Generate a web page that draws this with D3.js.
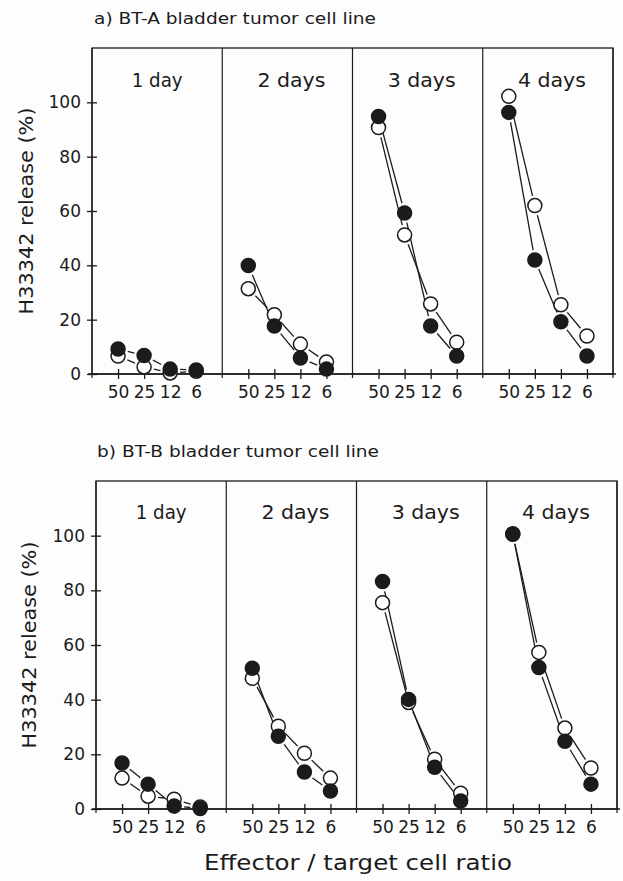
<!DOCTYPE html>
<html>
<head>
<meta charset="utf-8">
<script src="https://cdn.jsdelivr.net/npm/d3@7"></script>
<style>
  html, body { margin: 0; padding: 0; background: #fdfdfd; }
  svg { display: block; font-family: "DejaVu Sans", sans-serif; }
</style>
</head>
<body>
<svg id="chart" width="623" height="881"></svg>
<script>
// Effector / target cell ratios (x categories within each day panel)
const ratios = ["50", "25", "12", "6"];
// Incubation time panels
const days = ["1 day", "2 days", "3 days", "4 days"];
// Y axis ticks
const yTicks = [0, 20, 40, 60, 80, 100];

// a) BT-A: H33342 release (%) per day panel, at ratios 50, 25, 12, 6
const btaFilled = [
  [9.2, 6.8, 1.8, 1.5],
  [39.9, 17.7, 5.9, 1.8],
  [94.8, 59.3, 17.7, 6.6],
  [96.3, 42.0, 19.2, 6.6]
];
const btaOpen = [
  [6.6, 2.6, 0.4, 1.0],
  [31.4, 21.8, 11.0, 4.4],
  [90.7, 51.2, 25.8, 11.7],
  [102.2, 62.0, 25.5, 14.0]
];

// b) BT-B: H33342 release (%) per day panel, at ratios 50, 25, 12, 6
const btbFilled = [
  [16.8, 9.1, 1.1, 0.2],
  [51.5, 26.6, 13.5, 6.6],
  [83.2, 40.1, 15.3, 2.9],
  [100.7, 51.8, 24.8, 9.1]
];
const btbOpen = [
  [11.3, 4.7, 3.6, 0.7],
  [47.8, 30.3, 20.4, 11.3],
  [75.5, 39.0, 18.2, 5.8],
  [100.5, 57.3, 29.6, 15.0]
];

const svg = d3.select("#chart");
const ink = "#1b1b1b";
const R = 7;       // marker radius
const GAP = 10;    // connecting lines stop short of the markers

const blocks = [
  { title: "a) BT-A bladder tumor cell line", titleX: 94, titleY: 24,
    left: 92, right: 613, top: 48, base: 374, dayY: 87, ylabX: 33,
    filled: btaFilled, open: btaOpen },
  { title: "b) BT-B bladder tumor cell line", titleX: 97, titleY: 457,
    left: 96, right: 617, top: 481, base: 809, dayY: 519, ylabX: 36,
    filled: btbFilled, open: btbOpen }
];

blocks.forEach(b => {
  const g = svg.append("g");
  const y = d3.scaleLinear().domain([0, 120]).range([b.base, b.top]);
  const panel = d3.scaleBand().domain(d3.range(days.length)).range([b.left, b.right]);

  // block title
  g.append("text")
    .attr("x", b.titleX).attr("y", b.titleY)
    .attr("font-size", 15).attr("fill", ink)
    .attr("textLength", 282).attr("lengthAdjust", "spacingAndGlyphs")
    .text(b.title);

  // frame
  g.append("rect")
    .attr("x", b.left).attr("y", b.top)
    .attr("width", b.right - b.left).attr("height", b.base - b.top)
    .attr("fill", "none").attr("stroke", ink).attr("stroke-width", 1.3);

  // baseline slightly overhanging the frame
  g.append("line")
    .attr("x1", b.left - 4).attr("x2", b.right + 3)
    .attr("y1", b.base).attr("y2", b.base)
    .attr("stroke", ink).attr("stroke-width", 1.5);

  // panel dividers (and frame sides) run a little below the baseline
  const edges = days.map((d, i) => panel(i)).concat([b.right]);
  g.selectAll(".edge").data(edges).join("line")
    .attr("x1", d => d).attr("x2", d => d)
    .attr("y1", b.top).attr("y2", b.base + 4)
    .attr("stroke", ink).attr("stroke-width", 1.2);

  // y axis
  const ya = g.append("g")
    .attr("transform", `translate(${b.left},0)`)
    .call(d3.axisLeft(y).tickValues(yTicks).tickSize(5).tickPadding(6));
  ya.select(".domain").remove();
  ya.selectAll(".tick line").attr("x1", 5).attr("stroke", ink).attr("stroke-width", 1.3);
  ya.selectAll(".tick text").attr("font-size", 17).attr("fill", ink)
    .attr("font-family", "DejaVu Sans, sans-serif");

  // y axis title
  g.append("text")
    .attr("transform", `translate(${b.ylabX},${(b.top + b.base) / 2}) rotate(-90)`)
    .attr("text-anchor", "middle")
    .attr("font-size", 20).attr("fill", ink)
    .attr("textLength", 207).attr("lengthAdjust", "spacingAndGlyphs")
    .text("H33342 release (%)");

  days.forEach((day, p) => {
    const x0 = panel(p), x1 = x0 + panel.bandwidth();
    const x = d3.scalePoint().domain(ratios).range([x0, x1]).padding(1);

    // x axis per panel
    const xa = g.append("g")
      .attr("transform", `translate(0,${b.base})`)
      .call(d3.axisBottom(x).tickSize(5).tickPadding(7));
    xa.select(".domain").remove();
    xa.selectAll(".tick line").attr("y1", -5).attr("stroke", ink).attr("stroke-width", 1.3);
    xa.selectAll(".tick text").attr("font-size", 17).attr("fill", ink)
      .attr("font-family", "DejaVu Sans, sans-serif");

    // day label
    g.append("text")
      .attr("x", (x0 + x1) / 2 + (p === 0 ? 0 : 4)).attr("y", b.dayY)
      .attr("text-anchor", "middle")
      .attr("font-size", 19).attr("fill", ink)
      .attr("textLength", p === 0 ? 51 : 68).attr("lengthAdjust", "spacingAndGlyphs")
      .text(day);

    // series: open circles underneath, filled circles on top
    const series = [
      { vals: b.open[p], fill: "#ffffff" },
      { vals: b.filled[p], fill: ink }
    ];
    const pts = series.map(s => s.vals.map((v, i) => [x(ratios[i]), y(v)]));

    // connecting segments, stopped short of each marker
    series.forEach((s, si) => {
      const P = pts[si];
      for (let i = 0; i < P.length - 1; i++) {
        const [ax, ay] = P[i], [bx, by] = P[i + 1];
        const dx = bx - ax, dy = by - ay, len = Math.hypot(dx, dy);
        if (len <= 2 * GAP + 1) continue;
        const ux = dx / len, uy = dy / len;
        g.append("line")
          .attr("x1", ax + ux * GAP).attr("y1", ay + uy * GAP)
          .attr("x2", bx - ux * GAP).attr("y2", by - uy * GAP)
          .attr("stroke", ink).attr("stroke-width", 1.3);
      }
    });

    series.forEach((s, si) => {
      g.selectAll(null).data(pts[si]).join("circle")
        .attr("cx", d => d[0]).attr("cy", d => d[1]).attr("r", R)
        .attr("fill", s.fill).attr("stroke", ink).attr("stroke-width", 1.5);
    });
  });
});

// shared x axis title
svg.append("text")
  .attr("x", 204).attr("y", 870)
  .attr("font-size", 21).attr("fill", ink)
  .attr("textLength", 308).attr("lengthAdjust", "spacingAndGlyphs")
  .text("Effector / target cell ratio");
</script>
</body>
</html>
